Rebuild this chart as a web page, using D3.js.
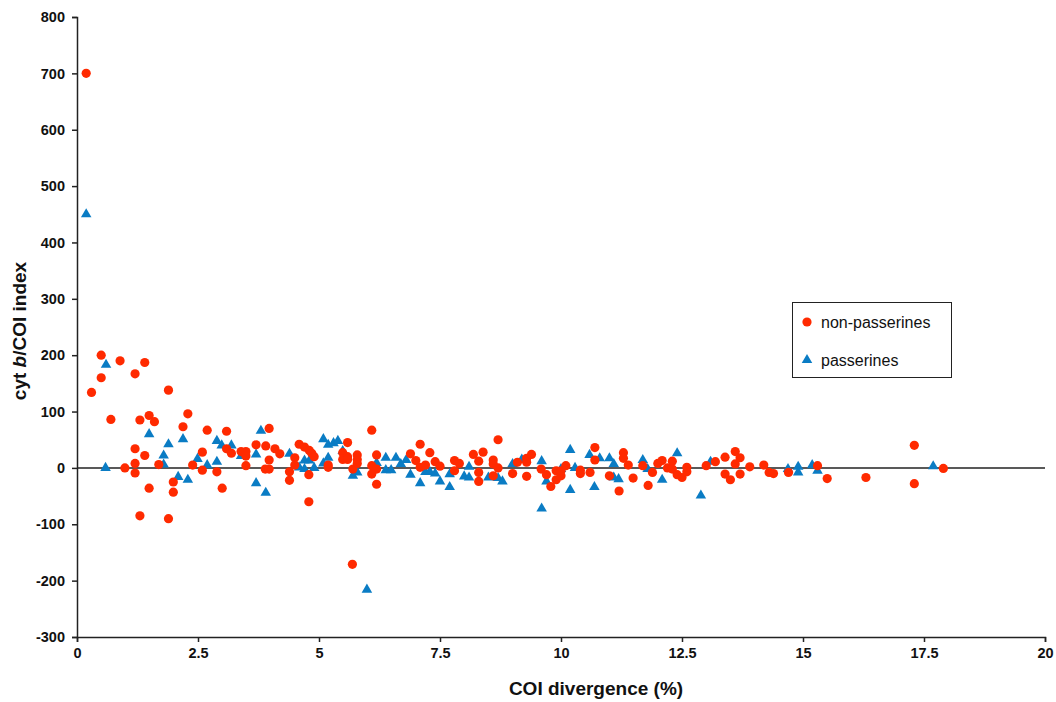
<!DOCTYPE html>
<html><head><meta charset="utf-8">
<script src="https://cdn.jsdelivr.net/npm/d3@7"></script>
<style>body{margin:0;background:#fff;}svg{display:block;font-family:"Liberation Sans",Arial,sans-serif;}</style>
</head><body>
<svg id="chart" width="1056" height="702"></svg>
<script>
const xTicks = [0, 2.5, 5, 7.5, 10, 12.5, 15, 17.5, 20];
const yTicks = [-300, -200, -100, 0, 100, 200, 300, 400, 500, 600, 700, 800];
const seriesNames = ["non-passerines", "passerines"];

const nonPasserines = [
[0.19,700],[0.30,134],[0.50,200],[0.50,160],[0.70,86],[0.89,190],[0.99,0],[1.20,167],[1.20,34],[1.20,8],[1.20,-9],
[1.30,85],[1.30,-85],[1.40,187],[1.40,22],[1.49,93],[1.49,-36],[1.60,82],[1.69,6],[1.89,138],[1.89,-90],[1.99,-25],
[1.99,-43],[2.19,73],[2.29,96],[2.39,5],[2.59,28],[2.59,-4],[2.69,67],[2.89,-7],[3.0,-36],[3.09,65],[3.09,34],[3.19,26],
[3.39,29],[3.49,29],[3.49,21],[3.49,4],[3.70,41],[3.90,39],[3.97,70],[3.97,14],[3.89,-2],[3.97,-2],[4.09,34],[4.19,25],
[4.39,-7],[4.39,-22],[4.50,18],[4.50,5],[4.59,42],[4.70,37],[4.80,31],[4.85,26],[4.90,20],[4.79,-12],[4.79,-60],
[5.19,5],[5.19,1],[5.49,27],[5.49,15],[5.59,45],[5.59,20],[5.59,15],[5.70,-2],[5.69,-171],[5.79,23],[5.79,15],[5.79,8],
[6.09,67],[6.09,4],[6.09,-11],[6.19,23],[6.19,-2],[6.19,-29],[6.89,25],[7.0,13],[7.09,42],[7.09,1],[7.20,5],[7.29,27],
[7.40,11],[7.50,3],[7.80,13],[7.90,8],[7.80,-5],[8.19,24],[8.30,12],[8.30,-8],[8.30,-24],[8.39,28],[8.60,14],[8.60,7],
[8.60,-14],[8.70,50],[8.70,0],[9.0,-10],[9.10,10],[9.29,17],[9.29,10],[9.29,-15],[9.39,24],[9.59,-2],[9.70,-12],
[9.79,-33],[9.90,-21],[9.90,-5],[10.0,-14],[10.0,-5],[10.10,4],[10.40,-4],[10.40,-10],[10.60,-8],[10.70,36],[10.70,14],
[11.0,-14],[11.20,-41],[11.29,27],[11.29,17],[11.39,5],[11.49,-18],[11.69,4],[11.80,-31],[11.89,-8],[12.0,8],[12.09,13],
[12.20,0],[12.30,-2],[12.30,12],[12.40,-12],[12.50,-17],[12.60,-7],[12.60,1],[13.0,4],[13.19,11],[13.39,19],[13.39,-11],
[13.50,-21],[13.60,29],[13.60,7],[13.70,18],[13.70,-11],[13.90,2],[14.19,5],[14.30,-8],[14.39,-10],[14.70,-8],[15.30,4],
[15.50,-19],[16.30,-17],[17.30,40],[17.30,-28],[17.90,-1]
];

const passerines = [
[0.19,450],[0.60,183],[0.59,0],[1.49,60],[1.79,22],[1.79,6],[1.89,42],[2.09,-16],[2.19,51],[2.29,-21],[2.49,16],[2.69,5],
[2.89,48],[2.89,11],[2.99,40],[3.19,40],[3.39,21],[3.70,24],[3.70,-27],[3.80,66],[3.90,-44],[4.39,25],[4.59,1],[4.70,-2],
[4.70,13],[4.80,13],[4.90,0],[5.09,51],[5.09,8],[5.19,41],[5.19,18],[5.30,44],[5.39,48],[5.49,30],[5.70,-14],[5.79,-8],
[5.99,-216],[6.19,9],[6.38,18],[6.38,-4],[6.49,-4],[6.59,18],[6.69,7],[6.80,14],[6.89,-12],[7.09,-27],[7.20,-7],[7.29,-7],
[7.40,-10],[7.50,-24],[7.70,-34],[7.70,-11],[8.0,-15],[8.10,-17],[8.10,2],[8.50,-17],[8.70,-18],[8.79,-24],[9.0,7],
[9.19,15],[9.60,12],[9.60,-72],[9.70,-24],[10.0,-2],[10.19,32],[10.19,-39],[10.29,0],[10.59,23],[10.69,-34],[10.80,17],
[11.0,17],[11.09,7],[11.09,-17],[11.19,-20],[11.69,14],[11.79,-2],[12.09,-21],[12.40,26],[12.89,-49],[13.09,11],
[14.69,-2],[14.90,2],[14.90,-8],[15.19,5],[15.30,-5],[17.69,3]
];

const svg = d3.select("#chart");
const margin = {left: 77, right: 1045, top: 17, bottom: 637};
const x = d3.scaleLinear().domain([0, 20]).range([margin.left, margin.right]);
const y = d3.scaleLinear().domain([-300, 800]).range([margin.bottom, margin.top]);

const red = "#FF2A00", blue = "#0A7CC4";

// zero line
svg.append("line").attr("x1", x(0)).attr("x2", x(20)).attr("y1", y(0)).attr("y2", y(0))
  .attr("stroke", "#222").attr("stroke-width", 1.5);

// axes
const xAxis = svg.append("g").attr("transform", `translate(0,${margin.bottom})`)
  .call(d3.axisBottom(x).tickValues(xTicks).tickSize(5).tickPadding(6).tickFormat(d => String(d)));
const yAxis = svg.append("g").attr("transform", `translate(${margin.left},0)`)
  .call(d3.axisLeft(y).tickValues(yTicks).tickSize(5).tickPadding(7).tickFormat(d => String(d)));
[xAxis, yAxis].forEach(g => {
  g.select(".domain").attr("stroke", "#222").attr("stroke-width", 1.5);
  g.selectAll(".tick line").attr("stroke", "#222").attr("stroke-width", 1.5);
  g.selectAll(".tick text").attr("font-family", "Liberation Sans, Arial, sans-serif")
    .attr("font-size", 14.5).attr("font-weight", "bold").attr("fill", "#111");
});

// points
svg.append("g").selectAll("path").data(passerines).join("path")
  .attr("d", d3.symbol(d3.symbolTriangle, 48)())
  .attr("transform", d => `translate(${x(d[0])},${y(d[1])})`)
  .attr("fill", blue);
svg.append("g").selectAll("circle").data(nonPasserines).join("circle")
  .attr("cx", d => x(d[0])).attr("cy", d => y(d[1])).attr("r", 4.6)
  .attr("fill", red);

// axis titles
svg.append("text").attr("x", 596).attr("y", 695).attr("text-anchor", "middle")
  .attr("font-size", 19).attr("font-weight", "bold").attr("fill", "#111").text("COI divergence (%)");
const yt = svg.append("text").attr("transform", "translate(26,331) rotate(-90)").attr("text-anchor", "middle")
  .attr("font-size", 19).attr("font-weight", "bold").attr("fill", "#111");
yt.append("tspan").text("cyt ");
yt.append("tspan").attr("font-style", "italic").text("b");
yt.append("tspan").text("/COI index");

// legend
const lg = svg.append("g");
lg.append("rect").attr("x", 792.5).attr("y", 302.5).attr("width", 159).attr("height", 75)
  .attr("fill", "#fff").attr("stroke", "#222").attr("stroke-width", 1);
lg.append("circle").attr("cx", 807).attr("cy", 322).attr("r", 4.6).attr("fill", red);
lg.append("path").attr("d", d3.symbol(d3.symbolTriangle, 48)()).attr("transform", "translate(807,360)").attr("fill", blue);
lg.append("text").attr("x", 821).attr("y", 328).attr("font-size", 16).attr("fill", "#111").text(seriesNames[0]);
lg.append("text").attr("x", 821).attr("y", 366).attr("font-size", 16).attr("fill", "#111").text(seriesNames[1]);
</script>
</body></html>
